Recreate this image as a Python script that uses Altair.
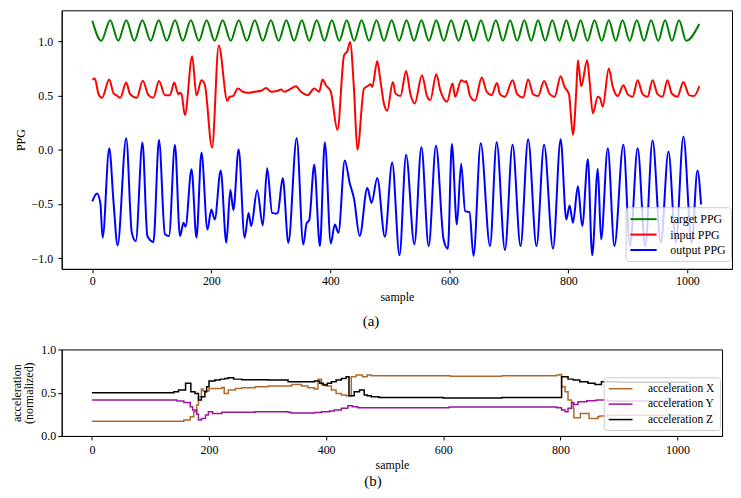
import altair as alt
import pandas as pd

FONT = "Liberation Serif"

sample_ticks = [0, 200, 400, 600, 800, 1000]
ppg_ticks = [-1.0, -0.5, 0.0, 0.5, 1.0]
acc_ticks = [0.0, 0.5, 1.0]

ppg_names = ["target PPG", "input PPG", "output PPG"]
ppg_colors = ["#008000", "#ff0000", "#0000ff"]
acc_names = ["acceleration X", "acceleration Y", "acceleration Z"]
acc_colors = ["#b3692a", "#9a169a", "#000000"]

# ---- target PPG (peaks / troughs) ----
target_x = [0, 15, 30, 43.5, 57, 70.5, 84, 98, 111.5, 125, 139, 152, 165.5, 179, 192, 205.5,
            219, 232.5, 246, 259.5, 273, 286.5, 300, 313, 326, 339, 352, 364.5, 377, 390,
            402.5, 415, 427.5, 440, 452.5, 465, 477.5, 490, 503, 515.5, 528, 540.5, 553,
            565.5, 578, 590.5, 603, 615.5, 628, 640.5, 653, 665.5, 678, 690, 702, 714,
            726, 737.5, 749, 761, 773, 785, 796.5, 808.5, 820.5, 832, 844, 856, 868,
            879.5, 891, 903, 915, 927, 939, 951, 962.5, 974, 986, 998, 1020]
target_y = [1.19, 1.005, 1.195, 1.005, 1.195, 1.005, 1.195, 1.005, 1.195, 1.005, 1.195, 1.005,
            1.195, 1.005, 1.195, 1.005, 1.195, 1.005, 1.195, 1.005, 1.195, 1.005, 1.195, 1.005,
            1.195, 1.005, 1.195, 1.005, 1.195, 1.005, 1.195, 1.005, 1.195, 1.005, 1.195, 1.005,
            1.195, 1.005, 1.195, 1.005, 1.195, 1.005, 1.195, 1.005, 1.195, 1.005, 1.195, 1.005,
            1.195, 1.005, 1.195, 1.005, 1.195, 1.005, 1.195, 1.005, 1.195, 1.005, 1.195, 1.005,
            1.195, 1.005, 1.195, 1.005, 1.195, 1.005, 1.195, 1.005, 1.195, 1.005, 1.195, 1.005,
            1.195, 1.005, 1.195, 1.005, 1.195, 1.005, 1.195, 1.005, 1.16]

# ---- input PPG ----
input_x = [0, 4, 10.6, 16.2, 28.4, 35.7, 41.3, 46.8, 56.9, 63.5, 74.7, 84.7, 94.2, 102.6, 112,
           122, 130.4, 137.7, 144.4, 147.2, 150, 155.5, 167.8, 175, 183.4, 189, 201.2, 212.4,
           226.9, 230.8, 236.3, 244.7, 253, 261.4, 272.6, 283.7, 292, 300.4, 311.6, 317, 322.7,
           334, 342, 350.6, 361.8, 373, 381.3, 386.8, 392.4, 400.8, 411.9, 423, 428.6, 433.1,
           439.8, 445.4, 456.5, 462.1, 467.7, 470.5, 478.8, 484.4, 490, 495.5, 505, 509.5,
           517.8, 527.3, 534.6, 541.8, 554, 562.4, 568, 578, 584.7, 596, 605.3, 609.8, 619.8,
           625.4, 628.2, 634.9, 643.3, 654.4, 662.8, 671, 680, 685, 693.4, 706.2, 714, 724,
           732.4, 740.8, 749.1, 759.2, 768.7, 777, 787, 793.7, 801, 807.7, 813.2, 816, 821.6,
           831.6, 835.5, 841.1, 849.5, 853.4, 857.8, 867.9, 874.6, 883, 892.4, 899.6, 908,
           916.4, 924.7, 933.1, 941.5, 949.8, 958.2, 966.5, 973.8, 983.3, 993.3, 1002.8,
           1011.1, 1020]
input_y = [0.648, 0.657, 0.51, 0.48, 0.648, 0.52, 0.5, 0.48, 0.62, 0.513, 0.48, 0.638, 0.504,
           0.48, 0.635, 0.504, 0.504, 0.62, 0.513, 0.525, 0.513, 0.32, 0.862, 0.5, 0.642, 0.6,
           0.02, 0.963, 0.452, 0.489, 0.495, 0.565, 0.535, 0.525, 0.535, 0.544, 0.57, 0.535,
           0.544, 0.556, 0.535, 0.565, 0.586, 0.535, 0.504, 0.565, 0.535, 0.648, 0.596, 0.535,
           0.182, 0.871, 0.911, 0.994, 0.55, -0.001, 0.565, 0.586, 0.605, 0.58, 0.819, 0.626,
           0.427, 0.36, 0.626, 0.52, 0.495, 0.727, 0.513, 0.427, 0.688, 0.495, 0.458, 0.697,
           0.55, 0.443, 0.611, 0.489, 0.642, 0.626, 0.635, 0.495, 0.452, 0.666, 0.535, 0.504,
           0.617, 0.513, 0.489, 0.642, 0.513, 0.482, 0.648, 0.513, 0.495, 0.635, 0.513, 0.489,
           0.678, 0.58, 0.513, 0.137, 0.535, 0.825, 0.586, 0.825, 0.642, 0.336, 0.489, 0.474,
           0.397, 0.749, 0.58, 0.495, 0.596, 0.513, 0.489, 0.642, 0.513, 0.489, 0.642, 0.513,
           0.489, 0.642, 0.519, 0.489, 0.626, 0.504, 0.495, 0.586]

# ---- output PPG ----
output_x = [0, 7.8, 13.4, 17.3, 28.4, 35.7, 42.4, 56.9, 66.3, 73, 84.2, 92.5, 102.6, 112, 122,
            128.8, 138.8, 147.2, 153.3, 156.6, 166.7, 175, 183.4, 193.4, 200, 205.7, 215.7,
            225.2, 231.9, 237, 245.8, 255.9, 262.5, 267, 277, 286.5, 293.8, 302.1, 308.8,
            311.6, 320, 329.4, 343.4, 354.5, 360, 364.5, 372.9, 382.4, 390.7, 400.8, 407.5,
            413.6, 424.2, 432.5, 439.8, 449.3, 462.1, 469.3, 478.8, 491.6, 503.9, 516.2, 527.3,
            541.2, 553, 565.2, 577.5, 590.3, 597.5, 604.2, 612.6, 619.8, 626.5, 633.8, 640.5,
            652.7, 668.3, 679.5, 693.4, 706.2, 719.6, 732.4, 746.4, 759.2, 774.2, 787, 796.5,
            802.1, 807.7, 816, 823.3, 832.8, 840, 849.5, 855, 866.2, 877.4, 892.4, 903.6,
            916.4, 929.2, 941.5, 955.4, 968.2, 980.5, 993.3, 1007.2, 1017, 1023]
output_y = [-0.476, -0.405, -0.49, -0.812, 0.014, -0.49, -0.883, 0.106, -0.766, -0.843, 0.066,
            -0.797, -0.852, 0.09, -0.78, -0.797, 0.045, -0.797, -0.675, -0.71, -0.179, -0.812,
            -0.026, -0.736, -0.552, -0.644, -0.191, -0.858, -0.369, -0.558, 0.005, -0.812,
            -0.583, -0.705, -0.375, -0.699, -0.17, -0.583, -0.59, -0.583, -0.261, -0.858,
            0.106, -0.874, -0.681, -0.65, -0.139, -0.889, 0.066, -0.864, -0.69, -0.766, -0.099,
            -0.307, -0.454, -0.797, -0.353, -0.491, -0.261, -0.803, -0.117, -0.975, -0.047,
            -0.874, 0.023, -0.889, 0.036, -0.828, -0.913, 0.054, -0.69, -0.13, -0.567, -0.576,
            -0.981, 0.06, -0.889, 0.07, -0.926, 0.045, -0.889, 0.097, -0.889, 0.045, -0.913,
            0.097, -0.644, -0.515, -0.675, -0.338, -0.705, -0.087, -0.975, -0.176, -0.828,
            0.014, -0.889, 0.045, -0.889, 0.014, -0.889, 0.085, -0.858, -0.017, -0.858, 0.121,
            -0.858, -0.191, -0.506]

# ---- accelerations (sample-and-hold steps) ----
accx_x = [0, 157, 168, 174, 179, 182, 187, 190, 200, 222, 226, 233, 245, 256, 279, 301, 341,
          358, 369, 380, 386, 392, 400, 409, 417, 426, 434, 443, 451, 462, 470, 477, 612, 700,
          794, 799, 802, 808, 813, 819, 822, 823, 834, 849, 864, 867, 880, 1020]
accx_y = [0.17, 0.184, 0.223, 0.28, 0.357, 0.454, 0.542, 0.52, 0.55, 0.56, 0.49, 0.53, 0.55,
          0.557, 0.569, 0.577, 0.596, 0.577, 0.557, 0.542, 0.657, 0.596, 0.577, 0.53, 0.492,
          0.473, 0.465, 0.684, 0.704, 0.684, 0.704, 0.696, 0.69, 0.696, 0.704, 0.711, 0.569,
          0.511, 0.415, 0.377, 0.319, 0.211, 0.261, 0.203, 0.223, 0.23, 0.24, 0.24]

accy_x = [0, 145, 157, 168, 172, 179, 182, 187, 194, 199, 206, 222, 279, 335, 340, 380, 392,
          406, 414, 426, 437, 445, 454, 610, 794, 802, 808, 813, 819, 823, 830, 845, 861, 880,
          1020]
accy_y = [0.415, 0.404, 0.388, 0.338, 0.3, 0.25, 0.184, 0.203, 0.242, 0.28, 0.261, 0.273, 0.28,
          0.273, 0.265, 0.27, 0.28, 0.288, 0.3, 0.319, 0.35, 0.338, 0.327, 0.334, 0.327, 0.3,
          0.28, 0.319, 0.388, 0.365, 0.396, 0.408, 0.415, 0.405, 0.405]

accz_x = [0, 140, 148, 160, 169, 176, 182, 187, 193, 196, 200, 210, 219, 227, 233, 242, 256,
          300, 335, 380, 389, 395, 402, 409, 417, 426, 434, 439, 448, 457, 465, 470, 477, 490,
          600, 700, 802, 813, 822, 833, 847, 859, 870, 900, 1020]
accz_y = [0.5, 0.51, 0.53, 0.608, 0.51, 0.49, 0.415, 0.454, 0.51, 0.57, 0.634, 0.646, 0.657,
          0.665, 0.673, 0.657, 0.65, 0.646, 0.627, 0.634, 0.608, 0.588, 0.608, 0.627, 0.646,
          0.665, 0.684, 0.465, 0.511, 0.53, 0.473, 0.465, 0.454, 0.446, 0.44, 0.446, 0.684,
          0.657, 0.646, 0.627, 0.608, 0.596, 0.627, 0.62, 0.62]


def frame(name, xs, ys):
    return pd.DataFrame({"sample": xs, "value": ys, "series": name})


top_df = pd.concat([frame(ppg_names[0], target_x, target_y),
                    frame(ppg_names[1], input_x, input_y),
                    frame(ppg_names[2], output_x, output_y)], ignore_index=True)
bot_df = pd.concat([frame(acc_names[0], accx_x, accx_y),
                    frame(acc_names[1], accy_x, accy_y),
                    frame(acc_names[2], accz_x, accz_y)], ignore_index=True)

minus_expr = "replace(format(datum.value, '.1f'), '-', '\u2212')"

top = alt.Chart(top_df).mark_line(strokeWidth=2, interpolate="monotone").encode(
    x=alt.X("sample:Q",
            scale=alt.Scale(domain=[-51.5, 1075], nice=False, zero=False),
            axis=alt.Axis(values=sample_ticks, format="d", title="sample", titlePadding=5)),
    y=alt.Y("value:Q",
            scale=alt.Scale(domain=[-1.10, 1.287], nice=False, zero=False),
            axis=alt.Axis(values=ppg_ticks, labelExpr=minus_expr, title="PPG",
                          labelPadding=5, titlePadding=4)),
    color=alt.Color("series:N",
                    scale=alt.Scale(domain=ppg_names, range=ppg_colors),
                    legend=alt.Legend(orient="none", legendX=567, legendY=198, title=None,
                                      symbolType="M-2.2,0H2.2", symbolSize=144,
                                      symbolOffset=6, symbolStrokeWidth=2,
                                      labelFont=FONT, labelFontSize=12, labelOffset=20,
                                      padding=5, rowPadding=2.5,
                                      fillColor="rgba(255,255,255,0.8)",
                                      strokeColor="#cccccc", cornerRadius=3)),
).properties(
    width=674, height=260,
    title=alt.TitleParams("(a)", orient="bottom", anchor="middle", dx=-26, font=FONT,
                          fontSize=15, fontWeight="normal", offset=11, color="black"),
)

bottom = alt.Chart(bot_df).mark_line(strokeWidth=1.5, interpolate="step-after").encode(
    x=alt.X("sample:Q",
            scale=alt.Scale(domain=[-51.5, 1076], nice=False, zero=False),
            axis=alt.Axis(values=sample_ticks, format="d", title="sample", titlePadding=4,
                          labelPadding=5)),
    y=alt.Y("value:Q",
            scale=alt.Scale(domain=[0, 1], nice=False, zero=False),
            axis=alt.Axis(values=acc_ticks, format=".1f",
                          title=["acceleration", "(normalized)"],
                          labelPadding=2, titlePadding=5, titleLineHeight=12)),
    color=alt.Color("series:N",
                    scale=alt.Scale(domain=acc_names, range=acc_colors),
                    legend=alt.Legend(orient="none", legendX=545, legendY=28, title=None,
                                      symbolType="M-2.18,0H2.18", symbolSize=121,
                                      symbolOffset=5.5, symbolStrokeWidth=1.5,
                                      labelFont=FONT, labelFontSize=11.5, labelOffset=21,
                                      padding=5, rowPadding=3.5,
                                      fillColor="rgba(255,255,255,0.8)",
                                      strokeColor="#cccccc", cornerRadius=3)),
).properties(
    width=664, height=87,
    title=alt.TitleParams("(b)", orient="bottom", anchor="middle", dx=-19, font=FONT,
                          fontSize=15, fontWeight="normal", offset=3, color="black"),
)

chart = alt.vconcat(top, bottom, spacing=13).resolve_scale(
    color="independent", x="independent", y="independent"
).resolve_legend(color="independent").properties(
    padding={"left": 2, "top": 0, "right": 0, "bottom": 0},
    background="white",
).configure_view(
    stroke="black", strokeWidth=1,
).configure_axis(
    grid=False, domainColor="black", tickColor="black", labelColor="black",
    titleColor="black", labelFont=FONT, titleFont=FONT, labelFontSize=12,
    titleFontSize=12, titleFontWeight="normal", tickSize=4, labelPadding=3,
)

chart.save("out.html", embed_options={"renderer": "svg", "actions": False})
